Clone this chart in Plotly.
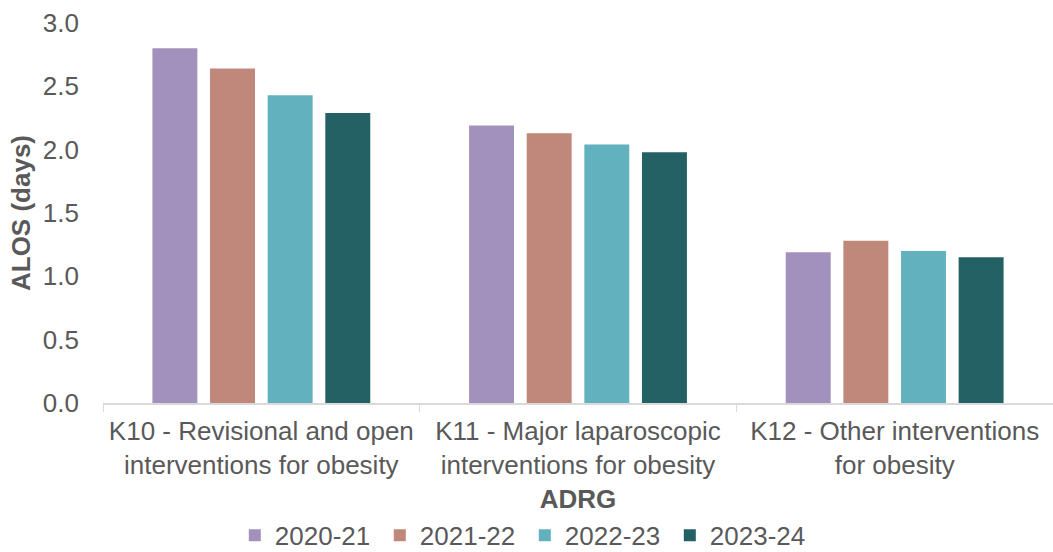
import plotly.graph_objects as go

# Average length of stay by ADRG and financial year
categories = [
    "K10 - Revisional and open<br>interventions for obesity",
    "K11 - Major laparoscopic<br>interventions for obesity",
    "K12 - Other interventions<br>for obesity",
]
years = ["2020-21", "2021-22", "2022-23", "2023-24"]
alos_2020_21 = [2.80, 2.19, 1.19]
alos_2021_22 = [2.64, 2.13, 1.28]
alos_2022_23 = [2.43, 2.04, 1.20]
alos_2023_24 = [2.29, 1.98, 1.15]
series = [alos_2020_21, alos_2021_22, alos_2022_23, alos_2023_24]
colors = ["#A391BD", "#C0877B", "#61B2BE", "#236164"]
y_ticks = [0, 0.5, 1.0, 1.5, 2.0, 2.5, 3.0]

FONT = "Liberation Sans, Arial, sans-serif"
GREY = "#595959"
FS = 26

fig = go.Figure()
for name, vals, col in zip(years, series, colors):
    fig.add_trace(go.Bar(x=categories, y=vals, name=name,
                         marker=dict(color=col, line=dict(width=0))))

fig.update_layout(
    width=1053, height=552,
    margin=dict(l=103, r=0, t=23, b=149, autoexpand=False),
    paper_bgcolor="white", plot_bgcolor="white",
    font=dict(family=FONT, size=FS, color=GREY),
    barmode="group", bargap=0.272, bargroupgap=0.22,
    showlegend=True,
    legend=dict(orientation="h", x=0.444, xanchor="center",
                y=-0.348, yanchor="middle",
                font=dict(size=FS, color=GREY),
                entrywidth=100, entrywidthmode="pixels",
                traceorder="normal"),
)
fig.update_xaxes(
    showline=True, linecolor="#D9D9D9", linewidth=1.5,
    ticks="outside", tickson="boundaries", ticklen=7, tickcolor="#D9D9D9",
    tickangle=0, automargin=False, ticklabelstandoff=4,
    tickfont=dict(size=FS, color=GREY),
    title=dict(text="<b>ADRG</b>", font=dict(size=FS, color=GREY), standoff=11),
    showgrid=False,
)
fig.update_yaxes(
    range=[0, 3], tickvals=y_ticks, tickformat=".1f", automargin=False,
    showline=False, showgrid=False, zeroline=False,
    tickfont=dict(size=FS, color=GREY),
    ticks="", ticklabelstandoff=23,
    title=dict(text="<b>ALOS (days)</b>", font=dict(size=FS, color=GREY), standoff=4),
)

fig.write_html("out.html")
